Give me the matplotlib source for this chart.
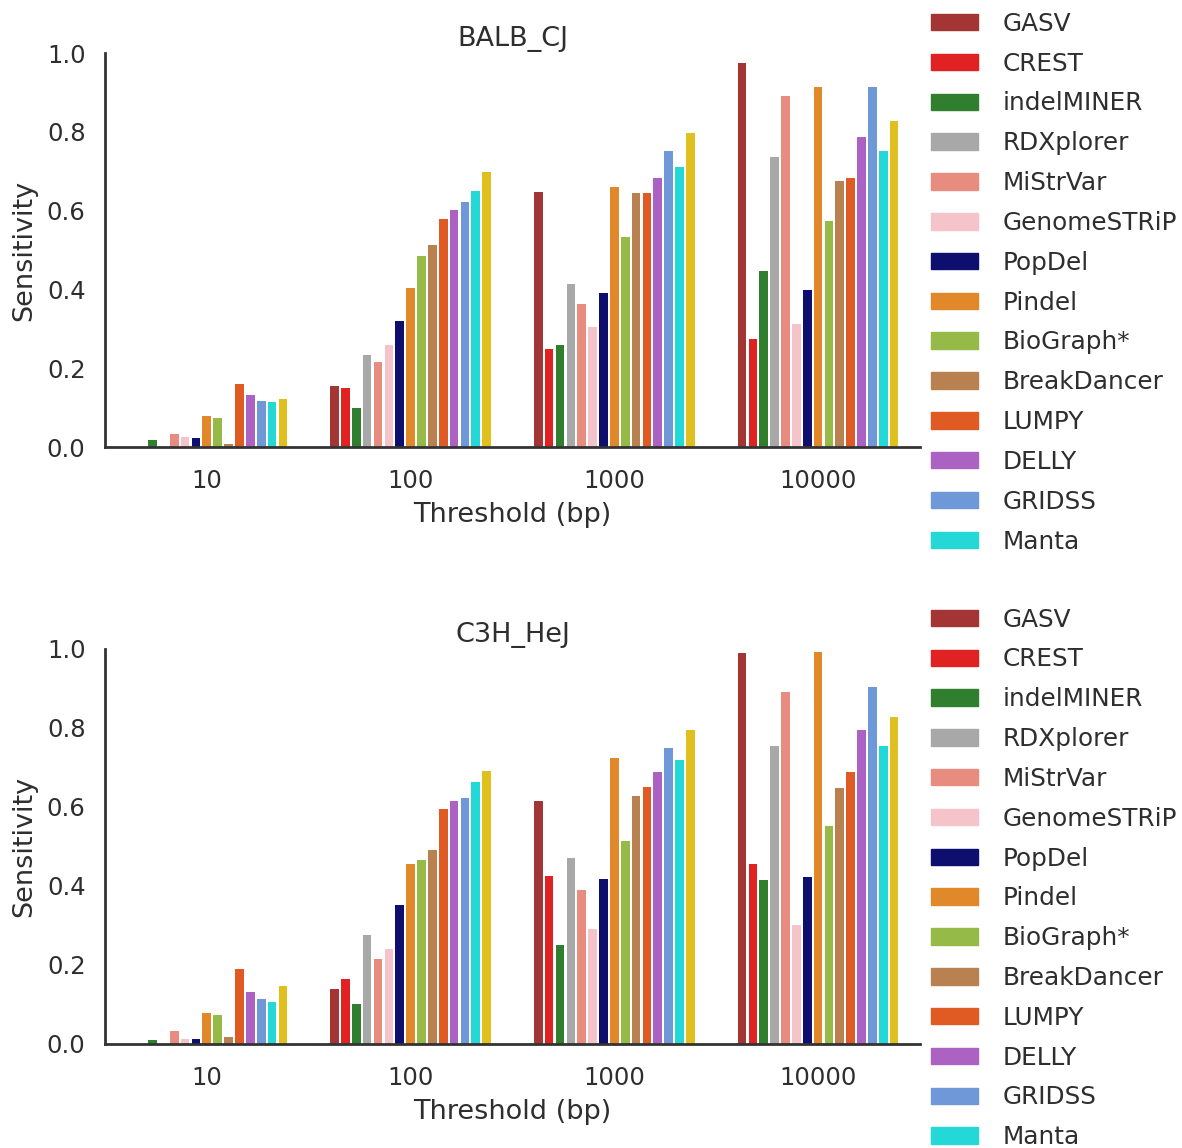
import numpy as np
import matplotlib
matplotlib.use("Agg")
import matplotlib.pyplot as plt
from matplotlib.patches import Patch

thresholds = ["10", "100", "1000", "10000"]
tools = ["GASV", "CREST", "indelMINER", "RDXplorer", "MiStrVar", "GenomeSTRiP",
         "PopDel", "Pindel", "BioGraph*", "BreakDancer", "LUMPY", "DELLY",
         "GRIDSS", "Manta", "Other"]
colors = ["#a33535", "#e02222", "#2f7f2f", "#a8a8a8", "#e88c80", "#f5c4cb",
          "#0e0e6e", "#e0882a", "#96ba48", "#ba8150", "#e05a24", "#ab62c2",
          "#6e98d8", "#24d8d8", "#dfc01f"]

# sensitivity per tool, one value per threshold (10, 100, 1000, 10000)
balb = {
    "GASV":        [0.000, 0.156, 0.647, 0.975],
    "CREST":       [0.000, 0.149, 0.248, 0.275],
    "indelMINER":  [0.017, 0.099, 0.260, 0.448],
    "RDXplorer":   [0.000, 0.233, 0.413, 0.736],
    "MiStrVar":    [0.032, 0.217, 0.364, 0.890],
    "GenomeSTRiP": [0.025, 0.260, 0.305, 0.313],
    "PopDel":      [0.022, 0.321, 0.390, 0.398],
    "Pindel":      [0.079, 0.403, 0.660, 0.914],
    "BioGraph*":   [0.074, 0.486, 0.532, 0.574],
    "BreakDancer": [0.008, 0.514, 0.645, 0.675],
    "LUMPY":       [0.161, 0.580, 0.645, 0.684],
    "DELLY":       [0.133, 0.602, 0.683, 0.787],
    "GRIDSS":      [0.118, 0.621, 0.752, 0.914],
    "Manta":       [0.114, 0.651, 0.710, 0.752],
    "Other":       [0.121, 0.698, 0.798, 0.827],
}
c3h = {
    "GASV":        [0.000, 0.140, 0.615, 0.989],
    "CREST":       [0.000, 0.164, 0.426, 0.456],
    "indelMINER":  [0.009, 0.102, 0.251, 0.414],
    "RDXplorer":   [0.000, 0.276, 0.472, 0.755],
    "MiStrVar":    [0.032, 0.216, 0.391, 0.892],
    "GenomeSTRiP": [0.012, 0.240, 0.290, 0.302],
    "PopDel":      [0.013, 0.353, 0.418, 0.422],
    "Pindel":      [0.078, 0.456, 0.723, 0.993],
    "BioGraph*":   [0.074, 0.465, 0.514, 0.553],
    "BreakDancer": [0.017, 0.492, 0.627, 0.649],
    "LUMPY":       [0.190, 0.595, 0.650, 0.689],
    "DELLY":       [0.131, 0.615, 0.688, 0.796],
    "GRIDSS":      [0.113, 0.622, 0.750, 0.904],
    "Manta":       [0.106, 0.662, 0.718, 0.755],
    "Other":       [0.148, 0.691, 0.796, 0.828],
}

plt.rcParams['font.family'] = 'DejaVu Sans'
txt = '#2e2e2e'

fig = plt.figure(figsize=(11.82, 11.48), dpi=100)
ax1 = fig.add_axes([0.0888, 0.6106, 0.6895, 0.3432])
ax2 = fig.add_axes([0.0888, 0.0906, 0.6895, 0.3441])

x = np.arange(len(thresholds))
slot = 0.8 / len(tools)

for ax, data, title in [(ax1, balb, "BALB_CJ"), (ax2, c3h, "C3H_HeJ")]:
    for i, t in enumerate(tools):
        ax.bar(x - 0.4 + slot * (i + 0.5), data[t], width=slot * 0.8,
               color=colors[i])
    ax.set_xlim(-0.5, 3.5)
    ax.set_ylim(0, 1.0)
    ax.set_yticks([0.0, 0.2, 0.4, 0.6, 0.8, 1.0])
    ax.set_xticks(x)
    ax.set_xticklabels(thresholds)
    ax.tick_params(length=0, labelsize=17.5, colors=txt)
    ax.tick_params(axis='x', pad=16)
    ax.tick_params(axis='y', pad=14)
    for s in ['top', 'right']:
        ax.spines[s].set_visible(False)
    for s in ['left', 'bottom']:
        ax.spines[s].set_color('#333333')
        ax.spines[s].set_linewidth(2)
    ax.set_title(title, fontsize=19.5, color=txt, pad=5)
    ax.set_xlabel("Threshold (bp)", fontsize=19.5, color=txt, labelpad=6)
    ax.set_ylabel("Sensitivity", fontsize=19.5, color=txt, labelpad=7)

    handles = [Patch(color=colors[i], label=tools[i]) for i in range(14)]
    ax.legend(handles=handles, loc='upper left', bbox_to_anchor=(0.9865, 1.161),
              frameon=False, fontsize=17.8, handlelength=1.9, handleheight=0.65,
              labelspacing=0.64, handletextpad=1.0, borderaxespad=0.5,
              labelcolor=txt)

fig.savefig("out.png", dpi=100)
